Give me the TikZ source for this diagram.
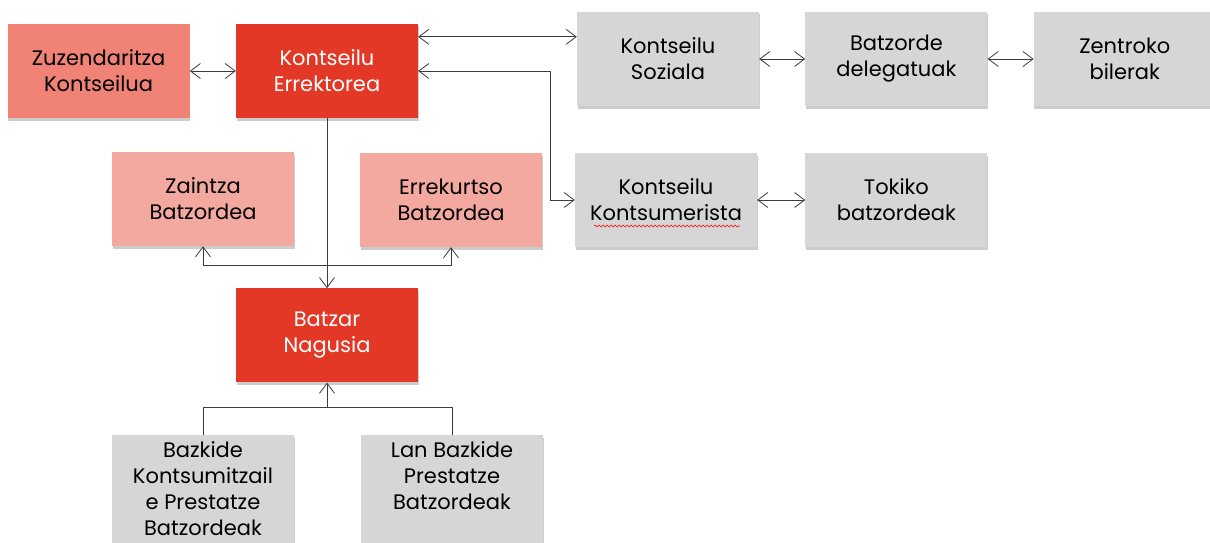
\documentclass[tikz,border=0pt]{standalone}
\usepackage{fontspec}
\setmainfont{Poppins}
\usetikzlibrary{positioning,arrows.meta,shadows,decorations.pathmorphing}

\definecolor{boxred}{RGB}{227,56,38}
\definecolor{boxsalmon}{RGB}{240,130,118}
\definecolor{boxpink}{RGB}{243,169,160}
\definecolor{boxgrey}{RGB}{214,214,214}
\definecolor{linegrey}{RGB}{60,60,60}

\begin{document}
\begin{tikzpicture}[
    x=1pt, y=1pt,
    node distance=46pt and 46pt,
    box/.style={align=center, font=\fontsize{21}{26}\selectfont, minimum width=182pt, minimum height=94pt, inner sep=2pt,
        drop shadow={shadow xshift=0.5pt, shadow yshift=-2.5pt, opacity=0.2, fill=black}},
    redbox/.style={box, fill=boxred, text=white},
    salmonbox/.style={box, fill=boxsalmon},
    pinkbox/.style={box, fill=boxpink},
    greybox/.style={box, fill=boxgrey},
    conn/.style={draw=linegrey, line width=0.8pt},
    arr/.style={conn, -{Straight Barb[length=10pt,width=15pt]}},
    dbl/.style={conn, {Straight Barb[length=10pt,width=15pt]}-{Straight Barb[length=10pt,width=15pt]}}
]
\useasboundingbox (0,0) rectangle (1210,-543);

% Top row
\node[redbox] (ke) at (327,-71) {Kontseilu\\Errektorea};
\node[salmonbox, left=of ke] (zk) {Zuzendaritza\\Kontseilua};
\node[greybox] (ks) at (668,-59) {Kontseilu\\Soziala};
\node[greybox, right=of ks] (bd) {Batzorde\\delegatuak};
\node[greybox, right=of bd] (zb) {Zentroko\\bilerak};

% Second row
\node[pinkbox] (zaintza) at (203,-199) {Zaintza\\Batzordea};
\node[pinkbox] (errek) at (451,-200) {Errekurtso\\Batzordea};
\node[greybox] (kk) at (666,-200) {Kontseilu\\Kontsumerista};
\node[greybox, right=48pt of kk] (tb) {Tokiko\\batzordeak};

% General assembly
\node[redbox, below=170pt of ke] (bn) {Batzar\\Nagusia};

% Preparatory committees
\node[greybox, minimum height=108pt] (bazkide) at (203,-489) {Bazkide\\Kontsumitzail\\e Prestatze\\Batzordeak};
\node[greybox, minimum height=108pt] (lan) at (452,-489) {Lan Bazkide\\Prestatze\\Batzordeak\\~};

% spell-check underline
\draw[red, line width=0.6pt, decorate, decoration={snake, amplitude=0.9pt, segment length=4pt}]
    ([xshift=-72pt, yshift=-26pt]kk.center) -- ([xshift=74pt, yshift=-26pt]kk.center);

% Connectors
\draw[dbl] (zk) -- (ke);
\draw[dbl] ([yshift=-13pt]ke.north east) -- ([yshift=-13pt]ke.north east -| ks.west);
\draw[dbl] (ke.east) -| ([xshift=-24pt]kk.west) -- (kk.west);
\draw[dbl] (ks) -- (bd);
\draw[dbl] (bd) -- (zb);
\draw[dbl] (kk.east) -- (kk.east -| tb.west);
\draw[arr] (ke.south) -- (bn.north);
\draw[dbl] (zaintza.south) -- ++(0,-19) -| (errek.south);
\coordinate (busB) at ([yshift=27pt]bazkide.north);
\draw[conn] (bazkide.north) -- (busB) -| (lan.north);
\draw[arr] (busB -| bn.south) -- (bn.south);
\end{tikzpicture}
\end{document}
